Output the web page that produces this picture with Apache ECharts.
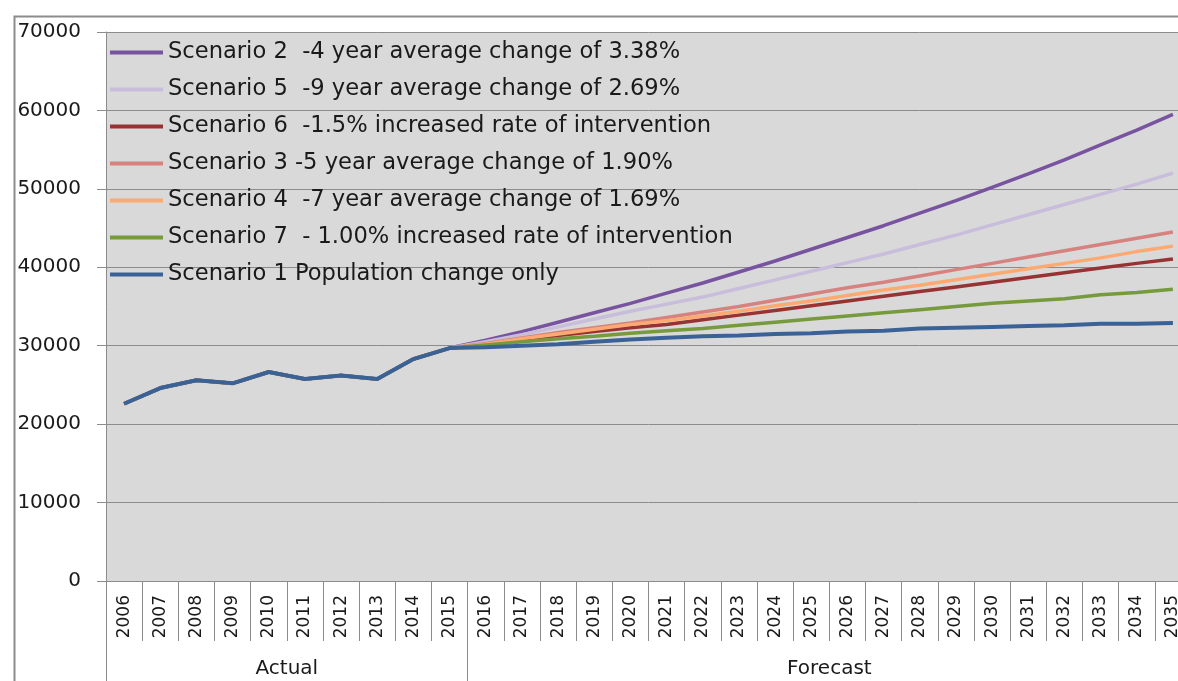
<!DOCTYPE html>
<html>
<head>
<meta charset="utf-8">
<script src="https://cdn.jsdelivr.net/npm/echarts@6/dist/echarts.min.js"></script>
<style>
  html, body { margin: 0; padding: 0; background: #fff; overflow: hidden; }
  #chart { width: 1191px; height: 681px; }
</style>
</head>
<body>
<div id="chart"></div>
<script>
// years on the category axis
const years = [];
for (let y = 2006; y <= 2035; y++) years.push(String(y));

// actual values 2006-2015 (shared by every scenario)
const actual = [22600, 24600, 25600, 25200, 26650, 25750, 26200, 25750, 28300, 29700];

// forecast values 2016-2035
const scen2 = [30700, 31800, 33000, 34200, 35400, 36700, 38000, 39400, 40800, 42300,
               43800, 45300, 46900, 48500, 50200, 51900, 53700, 55600, 57500, 59500];
const scen5 = [30500, 31400, 32400, 33400, 34400, 35300, 36200, 37300, 38400, 39500,
               40600, 41700, 42900, 44100, 45400, 46700, 48000, 49300, 50600, 52000];
const scen6 = [30100, 30700, 31300, 31800, 32300, 32700, 33300, 33900, 34500, 35100,
               35700, 36300, 36900, 37500, 38100, 38700, 39300, 39900, 40500, 41050];
const scen3 = [30300, 31000, 31700, 32300, 32900, 33600, 34300, 35000, 35800, 36600,
               37400, 38100, 38900, 39700, 40500, 41300, 42100, 42900, 43700, 44500];
const scen4 = [30200, 30900, 31500, 32100, 32700, 33200, 33800, 34400, 35100, 35700,
               36400, 37100, 37700, 38400, 39100, 39800, 40500, 41200, 42000, 42700];
const scen7 = [30100, 30500, 30900, 31200, 31600, 31900, 32200, 32600, 33000, 33400,
               33800, 34200, 34600, 35000, 35400, 35700, 36000, 36500, 36800, 37200];
const scen1 = [29800, 30000, 30200, 30500, 30800, 31000, 31200, 31300, 31500, 31600,
               31800, 31900, 32200, 32300, 32400, 32500, 32600, 32800, 32800, 32900];

const names = [
    'Scenario 2  -4 year average change of 3.38%',
    'Scenario 5  -9 year average change of 2.69%',
    'Scenario 6  -1.5% increased rate of intervention',
    'Scenario 3 -5 year average change of 1.90%',
    'Scenario 4  -7 year average change of 1.69%',
    'Scenario 7  - 1.00% increased rate of intervention',
    'Scenario 1 Population change only'
];
const values = [scen2, scen5, scen6, scen3, scen4, scen7, scen1];
const colors = ['#7853a0', '#c9bddc', '#973433', '#d6837f', '#fcaa72', '#779a3c', '#3b6297'];

// group labels under the years
const groups = ['Actual', 'Forecast'];

const gray = '#8c8c8c';
const chart = echarts.init(document.getElementById('chart'));

let series = values.map((v, i) => ({
    name: names[i],
    type: 'line',
    data: actual.concat(v),
    symbol: 'none',
    color: colors[i],
    lineStyle: { width: i === 6 ? 4 : 3.5, color: colors[i] }
}));

chart.setOption({
    animation: false,
    textStyle: { fontFamily: 'DejaVu Sans' },
    graphic: [{
        type: 'rect',
        left: 12, top: 14,
        shape: { width: 1200, height: 700 },
        style: { fill: 'none', stroke: gray, lineWidth: 2 },
        silent: true
    }],
    grid: {
        left: 106, top: 32, right: 0, bottom: 100,
        show: true, backgroundColor: '#d9d9d9', borderWidth: 0
    },
    legend: {
        orient: 'vertical',
        left: 110, top: 41,
        padding: 0,
        icon: 'rect',
        itemWidth: 53, itemHeight: 4, itemGap: 14,
        textStyle: { fontSize: 22.6, color: '#1a1a1a', lineHeight: 22 }
    },
    xAxis: [
        {
            type: 'category',
            data: years,
            boundaryGap: true,
            axisLine: { lineStyle: { color: gray } },
            axisTick: { show: true, interval: 0, length: 60, lineStyle: { color: gray } },
            axisLabel: { interval: 0, rotate: 90, fontSize: 17, color: '#1a1a1a', margin: 14 }
        },
        {
            type: 'value',
            min: 0, max: 30,
            position: 'bottom',
            offset: 60,
            axisLine: { show: false },
            splitLine: { show: false },
            axisTick: { show: true, customValues: [0, 10, 30], length: 45, lineStyle: { color: gray } },
            axisLabel: {
                customValues: [5, 20],
                fontSize: 20, color: '#1a1a1a', margin: 18,
                formatter: v => (v < 10 ? groups[0] : groups[1])
            }
        }
    ],
    yAxis: {
        type: 'value',
        min: 0, max: 70000, interval: 10000,
        axisLine: { show: true, lineStyle: { color: gray } },
        axisTick: { show: true, length: 9, lineStyle: { color: gray } },
        splitLine: { lineStyle: { color: gray, width: 1 } },
        axisLabel: { fontSize: 20, color: '#1a1a1a', margin: 25, formatter: v => String(v) }
    },
    series: series
});
</script>
</body>
</html>
